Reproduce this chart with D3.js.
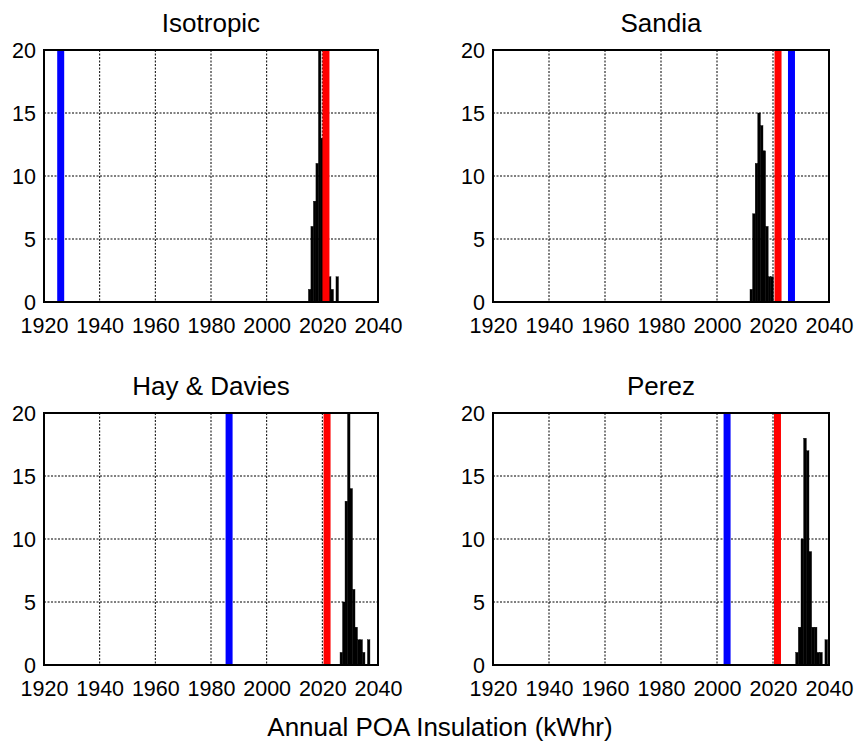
<!DOCTYPE html>
<html><head><meta charset="utf-8">
<script src="https://cdn.jsdelivr.net/npm/d3@7"></script>
<style>
body{margin:0;background:#fff}
svg{display:block}
text{font-family:"Liberation Sans",Arial,Helvetica,sans-serif;fill:#000}
</style>
</head><body>
<svg id="chart" width="860" height="745"></svg>
<script>
// ---------------- data ----------------
const titles = ["Isotropic", "Sandia", "Hay & Davies", "Perez"];
const xTicks = [1920, 1940, 1960, 1980, 2000, 2020, 2040];
const yTicks = [0, 5, 10, 15, 20];
const xLabel = "Annual POA Insulation (kWhr)";

const blueValues = [1926.0, 2026.6, 1986.5, 2003.6];
const redValues  = [2021.3, 2021.8, 2021.7, 2021.6];
const binWidths  = [0.9, 0.926, 0.895, 0.95];

const isoCenters = [2015.45, 2016.35, 2017.25, 2018.15, 2019.05, 2019.95, 2020.85, 2021.75, 2022.65, 2023.55, 2024.45, 2025.35];
const isoCounts  = [1, 6, 8, 11, 20, 13, 9, 5, 2, 1, 0, 2];

const sanCenters = [2012.25, 2013.18, 2014.11, 2015.03, 2015.96, 2016.89, 2017.81, 2018.74, 2019.66];
const sanCounts  = [1, 7, 11, 15, 14, 12, 6, 2, 2];

const hayCenters = [2026.81, 2027.71, 2028.60, 2029.50, 2030.39, 2031.29, 2032.18, 2033.08, 2033.97, 2034.87, 2035.76, 2036.66];
const hayCounts  = [1, 5, 13, 20, 14, 6, 3, 2, 2, 1, 0, 2];

const perCenters = [2028.575, 2029.525, 2030.475, 2031.425, 2032.375, 2033.325, 2034.275, 2035.225, 2036.175, 2037.125, 2038.075, 2039.025];
const perCounts  = [1, 3, 10, 18, 17, 9, 3, 3, 1, 1, 0, 2];

const centersAll = [isoCenters, sanCenters, hayCenters, perCenters];
const countsAll  = [isoCounts, sanCounts, hayCounts, perCounts];

// ---------------- layout ----------------
const boxes = [
  {x0: 44,  x1: 378, y0: 50,  y1: 302},
  {x0: 493, x1: 829, y0: 50,  y1: 302},
  {x0: 44,  x1: 378, y0: 413, y1: 665},
  {x0: 493, x1: 829, y0: 413, y1: 665}
];

const svg = d3.select("#chart");

boxes.forEach((b, i) => {
  const xs = d3.scaleLinear().domain([1920, 2040]).range([b.x0, b.x1]);
  const ys = d3.scaleLinear().domain([0, 20]).range([b.y1, b.y0]);
  const g = svg.append("g");

  // grid
  g.selectAll("line.gx").data(xTicks.slice(1, -1)).enter().append("line")
    .attr("x1", d => xs(d)).attr("x2", d => xs(d))
    .attr("y1", b.y0).attr("y2", b.y1)
    .attr("stroke", "#000").attr("stroke-width", 1).attr("stroke-dasharray", "2,1.5");
  g.selectAll("line.gy").data(yTicks.slice(1, -1)).enter().append("line")
    .attr("x1", b.x0).attr("x2", b.x1)
    .attr("y1", d => ys(d)).attr("y2", d => ys(d))
    .attr("stroke", "#000").attr("stroke-width", 1).attr("stroke-dasharray", "2,1.5");

  // histogram bars
  const w = binWidths[i];
  const bins = centersAll[i].map((c, k) => ({c: c, n: countsAll[i][k]})).filter(d => d.n > 0);
  g.selectAll("rect.bar").data(bins).enter().append("rect")
    .attr("x", d => xs(d.c - w / 2))
    .attr("width", d => xs(d.c + w / 2) - xs(d.c - w / 2))
    .attr("y", d => ys(Math.min(d.n, 20)))
    .attr("height", d => ys(0) - ys(Math.min(d.n, 20)))
    .attr("fill", "#000").attr("stroke", "#000").attr("stroke-width", 0.4);

  // reference lines
  [[blueValues[i], "#0000ff"], [redValues[i], "#ff0000"]].forEach(([v, col]) => {
    g.append("line")
      .attr("x1", xs(v)).attr("x2", xs(v))
      .attr("y1", ys(0)).attr("y2", ys(20))
      .attr("stroke", col).attr("stroke-width", 7);
  });

  // frame
  g.append("rect").attr("x", b.x0).attr("y", b.y0)
    .attr("width", b.x1 - b.x0).attr("height", b.y1 - b.y0)
    .attr("fill", "none").attr("stroke", "#000").attr("stroke-width", 2);

  // axes (labels only)
  const ax = g.append("g").attr("transform", `translate(0,${b.y1})`)
    .call(d3.axisBottom(xs).tickValues(xTicks).tickSize(0).tickPadding(16.2).tickFormat(d3.format("d")));
  ax.select(".domain").remove();
  ax.selectAll("text").attr("font-size", 21.5).attr("font-family", null).attr("dy", "0.71em");

  const ay = g.append("g").attr("transform", `translate(${b.x0},0)`)
    .call(d3.axisLeft(ys).tickValues(yTicks).tickSize(0).tickPadding(8).tickFormat(d3.format("d")));
  ay.select(".domain").remove();
  ay.selectAll("text").attr("font-size", 21.5).attr("font-family", null).attr("dy", "0.325em");

  // title
  g.append("text").attr("x", (b.x0 + b.x1) / 2).attr("y", b.y0 - 18)
    .attr("text-anchor", "middle").attr("font-size", 26).text(titles[i]);
});

svg.append("text").attr("x", 440).attr("y", 736)
  .attr("text-anchor", "middle").attr("font-size", 26).text(xLabel);
</script>
</body></html>
